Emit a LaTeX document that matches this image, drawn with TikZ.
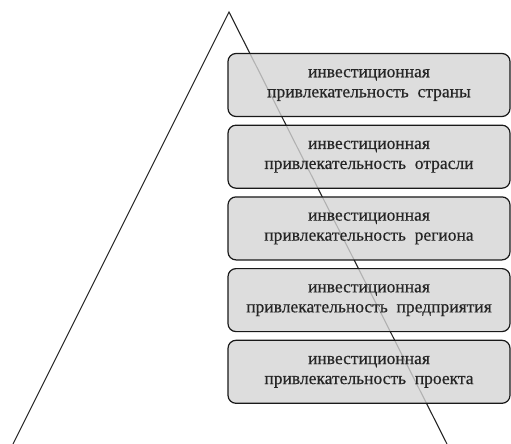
\documentclass[tikz,border=0pt]{standalone}
\usepackage{fontspec}
\setmainfont{Liberation Serif}[FakeBold=0.5, WordSpace=2]
\usetikzlibrary{positioning}

\tikzset{
  level/.style={draw=black!90, line width=1.2pt, rounded corners=8pt,
    fill=black!17, fill opacity=0.8, text opacity=1, text=black!85,
    minimum width=282pt, minimum height=63pt, align=center,
    font=\fontsize{17.5}{20}\selectfont},
}

\begin{document}
\begin{tikzpicture}[x=1pt, y=-1pt, node distance=7.5pt]

\useasboundingbox (0,0) rectangle (511,444);

% Pyramid
\coordinate (apex) at (229,12);
\coordinate (left) at (13,444);
\coordinate (right) at (447,444);
\draw[line width=1.1pt, black!85] (left) -- (apex) -- (right);

% Levels
\node[level] (country) at (369,85) {инвестиционная\\привлекательность страны};
\node[level, below=of country] (industry) {инвестиционная\\привлекательность отрасли};
\node[level, below=of industry] (region) {инвестиционная\\привлекательность региона};
\node[level, below=of region] (company) {инвестиционная\\привлекательность предприятия};
\node[level, below=of company] (project) {инвестиционная\\привлекательность проекта};

\end{tikzpicture}
\end{document}
